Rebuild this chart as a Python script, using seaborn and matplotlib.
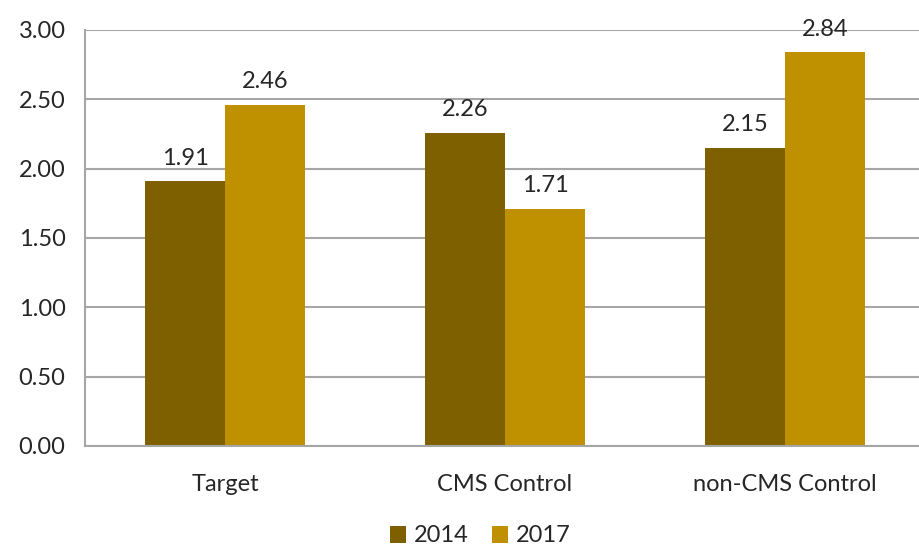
import pandas as pd
import seaborn as sns
import matplotlib.pyplot as plt

# data
categories = ["Target", "CMS Control", "non-CMS Control"]
years = ["2014", "2017"]
values_2014 = [1.91, 2.26, 2.15]
values_2017 = [2.46, 1.71, 2.84]
colors = ["#7F6000", "#BF9000"]

df = pd.DataFrame({
    "group": categories * 2,
    "year": [years[0]] * 3 + [years[1]] * 3,
    "value": values_2014 + values_2017,
})

sns.set_style("white")
plt.rcParams["font.family"] = ["Lato", "DejaVu Sans"]
grid_c = "#A6A6A6"
fs = 17

fig = plt.figure(figsize=(9.19, 5.47), dpi=100)
ax = fig.add_axes([85 / 919, 1 - 446 / 547, 840 / 919, 416 / 547])

sns.barplot(data=df, x="group", y="value", hue="year", order=categories,
            hue_order=years, palette=colors, width=0.571, saturation=1,
            edgecolor="none", ax=ax)

ax.set_ylim(0, 3)
ax.set_xlim(-0.5, 2.5)
ax.set_yticks([0, 0.5, 1, 1.5, 2, 2.5, 3])
ax.set_yticklabels([f"{v:.2f}" for v in ax.get_yticks()], fontsize=fs)
ax.yaxis.grid(True, color=grid_c, linewidth=1.5)
ax.set_axisbelow(True)

# x ticks between categories, labels at the centres
ax.set_xticks([-0.5, 0.5, 1.5], minor=False)
ax.set_xticklabels([])
ax.set_xticks([0, 1, 2], minor=True)
ax.set_xticklabels(categories, minor=True, fontsize=fs)
ax.tick_params(axis="x", which="minor", length=0, pad=20)
ax.tick_params(axis="x", which="major", length=8, width=1.5, color=grid_c)
ax.tick_params(axis="y", length=10, width=1.5, color=grid_c, pad=4)

for s in ["top", "right"]:
    ax.spines[s].set_visible(False)
for s in ["left", "bottom"]:
    ax.spines[s].set_color(grid_c)
    ax.spines[s].set_linewidth(1.5)

ax.set_xlabel("")
ax.set_ylabel("")

for cont in ax.containers:
    ax.bar_label(cont, fmt="%.2f", padding=9, fontsize=fs)

handles, labels = ax.get_legend_handles_labels()
ax.legend_.remove()
fig.legend(handles, labels, loc="center", bbox_to_anchor=(480 / 919, 1 - 536 / 547),
           ncol=2, frameon=False, fontsize=fs, handlelength=0.7, handleheight=0.7,
           handletextpad=0.3, columnspacing=1.0)

fig.savefig("out.png", dpi=100)
